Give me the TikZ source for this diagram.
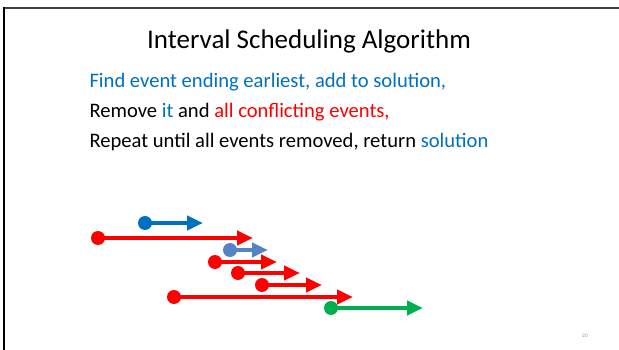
\documentclass[tikz,border=0pt]{standalone}
\usepackage{fontspec}
\setmainfont{Carlito}
\usetikzlibrary{arrows.meta}
\definecolor{solblue}{HTML}{0070C0}
\definecolor{itblue}{HTML}{5584C4}
\definecolor{evred}{HTML}{FF0000}
\definecolor{evgreen}{HTML}{00B050}
\begin{document}
\begin{tikzpicture}[x=1pt,y=-1pt]
		\tikzstyle{dot}=[circle,inner sep=0pt,minimum size=14pt];
		\tikzstyle{event}=[line width=4pt,-{Triangle[length=16pt,width=14pt]},shorten <=-1pt];
		\tikzstyle{line}=[anchor=west,font=\fontsize{20.6}{24}\selectfont];
		\useasboundingbox (0,0) rectangle (619,350);
		% frame of the slide
		\draw[line width=2pt,black!75] (3,8) -- (619,8);
		\draw[line width=2pt] (4,7) -- (4,350);
		% title and text
		\node[font=\fontsize{27}{32}\selectfont] (title) at (309,41) {Interval Scheduling Algorithm};
		\node[line] (find) at (86,82) {\color{solblue}Find event ending earliest, add to solution,};
		\node[line] (remove) at (86,112) {Remove \textcolor{solblue}{it} and \textcolor{evred}{all conflicting events,}};
		\node[line] (repeat) at (86,142) {Repeat until all events removed, return \textcolor{solblue}{solution}};
		% events
		\foreach \name/\col/\sx/\ex/\y in {ea/solblue/145/203/223, eb/evred/98/253/238, ec/itblue/230/268/250,
			ed/evred/215/277/262, ee/evred/238/300/273, ef/evred/262/322/285, eg/evred/174/353/297, eh/evgreen/331/423/308}{
			\node[dot,fill=\col] (\name) at (\sx,\y) {};
			\coordinate (\name end) at (\ex,\y);
			\draw[event,\col] (\name.center) -- (\name end);
		}
		\node[font=\fontsize{5.5}{6}\selectfont,text=black!40] (page) at (585,336) {20};
\end{tikzpicture}
\end{document}
